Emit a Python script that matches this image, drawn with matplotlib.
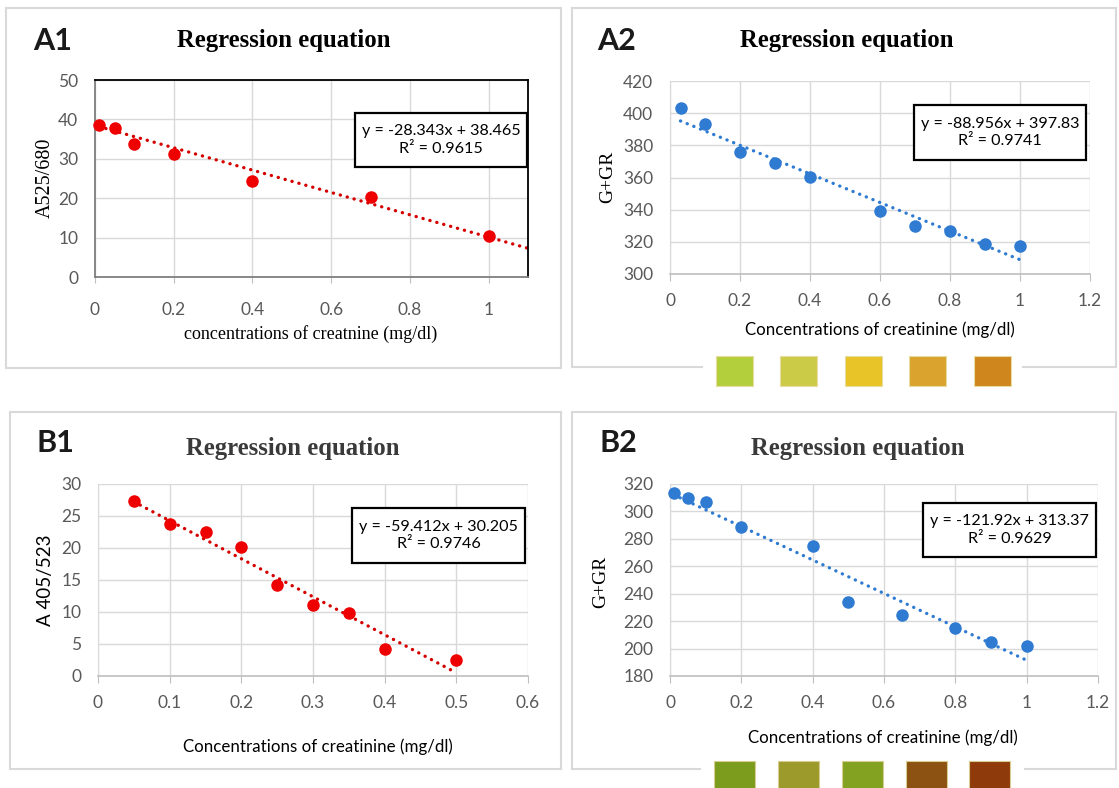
import numpy as np
import matplotlib
matplotlib.use("Agg")
import matplotlib.pyplot as plt
from matplotlib.patches import Rectangle
from matplotlib.lines import Line2D

# ---------------- data ----------------
a1_x = [0.01, 0.05, 0.1, 0.2, 0.4, 0.7, 1.0]
a1_y = [38.6, 37.7, 33.7, 31.1, 24.4, 20.3, 10.4]
a1_slope, a1_intercept, a1_r2 = -28.343, 38.465, 0.9615
a1_xticks = [0, 0.2, 0.4, 0.6, 0.8, 1.0]
a1_yticks = [0, 10, 20, 30, 40, 50]

a2_x = [0.03, 0.1, 0.2, 0.3, 0.4, 0.6, 0.7, 0.8, 0.9, 1.0]
a2_y = [403.0, 393.1, 375.6, 369.2, 360.5, 339.2, 330.1, 326.9, 318.7, 317.4]
a2_slope, a2_intercept, a2_r2 = -88.956, 397.83, 0.9741
a2_xticks = [0, 0.2, 0.4, 0.6, 0.8, 1.0, 1.2]
a2_yticks = [300, 320, 340, 360, 380, 400, 420]

b1_x = [0.05, 0.1, 0.15, 0.2, 0.25, 0.3, 0.35, 0.4, 0.5]
b1_y = [27.4, 23.8, 22.5, 20.1, 14.2, 11.1, 9.9, 4.2, 2.45]
b1_slope, b1_intercept, b1_r2 = -59.412, 30.205, 0.9746
b1_xticks = [0, 0.1, 0.2, 0.3, 0.4, 0.5, 0.6]
b1_yticks = [0, 5, 10, 15, 20, 25, 30]

b2_x = [0.01, 0.05, 0.1, 0.2, 0.4, 0.5, 0.65, 0.8, 0.9, 1.0]
b2_y = [313.2, 310.0, 306.6, 288.8, 275.0, 233.8, 224.3, 215.3, 204.8, 202.2]
b2_slope, b2_intercept, b2_r2 = -121.92, 313.37, 0.9629
b2_xticks = [0, 0.2, 0.4, 0.6, 0.8, 1.0, 1.2]
b2_yticks = [180, 200, 220, 240, 260, 280, 300, 320]

a_swatches = ["#b3cf3c", "#cccb48", "#e9c428", "#d9a32e", "#cf861c"]
b_swatches = ["#7c9c1e", "#9b9a2a", "#84a222", "#8b5212", "#8e3a0a"]

titles = ["Regression equation"] * 4
panel_labels = ["A1", "A2", "B1", "B2"]
ylabels = ["A525/680", "G+GR", "A 405/523", "G+GR"]
xlabels = ["concentrations of creatnine (mg/dl)",
           "Concentrations of creatinine (mg/dl)",
           "Concentrations of creatinine (mg/dl)",
           "Concentrations of creatinine (mg/dl)"]

# ---------------- layout helpers ----------------
W, H = 1119, 788
fig = plt.figure(figsize=(W / 100, H / 100), dpi=100)
fig.patch.set_facecolor("white")

SANS = ["Lato", "DejaVu Sans"]
SERIF = ["Liberation Serif", "DejaVu Serif"]
GRID = "#d9d9d9"
TICKC = "#595959"


def fx(x):
    return x / W


def fy(y):
    return 1 - y / H


def rect(l, t, r, b):
    return [l / W, 1 - b / H, (r - l) / W, (b - t) / H]


def hline(x0, x1, y, color="#d9d9d9", lw=1.5):
    fig.add_artist(Line2D([fx(x0), fx(x1)], [fy(y), fy(y)], color=color, lw=lw,
                          transform=fig.transFigure))


def vline(x, y0, y1, color="#d9d9d9", lw=1.5):
    fig.add_artist(Line2D([fx(x), fx(x)], [fy(y0), fy(y1)], color=color, lw=lw,
                          transform=fig.transFigure))


# panel borders
# A1
hline(6, 561, 8); hline(6, 561, 368); vline(6, 8, 368); vline(561, 8, 368)
# A2 (gap at swatches)
hline(572, 1116, 8); vline(572, 8, 367); vline(1116, 8, 367)
hline(572, 702, 367); hline(1023, 1116, 367)
# B1
hline(10, 561, 412); hline(10, 561, 769); vline(10, 412, 769); vline(561, 412, 769)
# B2
hline(572, 1116, 412); vline(572, 412, 769); vline(1116, 412, 769)
hline(572, 700, 769); hline(1025, 1116, 769)


def make_panel(ax_rect, xs, ys, slope, intercept, xticks, yticks, xlim, ylim,
               color, tcolor, extend=0.0, boxed=False):
    ax = fig.add_axes(ax_rect)
    ax.set_xlim(*xlim)
    ax.set_ylim(*ylim)
    ax.set_xticks(xticks)
    ax.set_yticks(yticks)
    ax.set_xticklabels(["%g" % v for v in xticks])
    ax.set_yticklabels(["%g" % v for v in yticks])
    ax.grid(True, color=GRID, lw=1.0, zorder=0)
    ax.set_axisbelow(True)
    for lab in ax.get_xticklabels() + ax.get_yticklabels():
        lab.set_family(SANS)
        lab.set_fontsize(12.5)
        lab.set_color(TICKC)
    if boxed:
        for s in ["top", "right"]:
            ax.spines[s].set_color("black")
            ax.spines[s].set_linewidth(1.3)
        for s in ["left", "bottom"]:
            ax.spines[s].set_color("#7f7f7f")
            ax.spines[s].set_linewidth(1.3)
        ax.tick_params(axis="y", length=0, pad=12)
        ax.tick_params(axis="x", length=4, color="#bfbfbf", pad=14)
    else:
        ax.spines["top"].set_visible(False)
        ax.spines["right"].set_visible(False)
        ax.spines["left"].set_color(GRID)
        ax.spines["bottom"].set_color("#bfbfbf")
        ax.spines["bottom"].set_linewidth(1.2)
        ax.tick_params(axis="y", length=0, pad=12)
        ax.tick_params(axis="x", length=5, color="#bfbfbf", pad=9)
    # trendline (from the equation shown on the chart)
    tx = np.array([min(xs), max(xs) + extend])
    ax.plot(tx, slope * tx + intercept, linestyle=(0, (0.05, 2.1)), color=tcolor,
            lw=2.4, dash_capstyle="round", zorder=2)
    ax.plot(xs, ys, "o", color=color, ms=8, zorder=3, clip_on=False)
    return ax


make_panel(rect(95, 80, 528, 277), a1_x, a1_y, a1_slope, a1_intercept,
           a1_xticks, a1_yticks, (0, 1.1), (0, 50), "#ee0000", "#d40000",
           extend=0.1, boxed=True)
make_panel(rect(670, 81, 1090, 274), a2_x, a2_y, a2_slope, a2_intercept,
           a2_xticks, a2_yticks, (0, 1.2), (300, 420), "#2f7bd2", "#2f7bd2")
make_panel(rect(98, 484, 528, 676), b1_x, b1_y, b1_slope, b1_intercept,
           b1_xticks, b1_yticks, (0, 0.6), (0, 30), "#ee0000", "#d40000")
make_panel(rect(670, 484, 1098, 676), b2_x, b2_y, b2_slope, b2_intercept,
           b2_xticks, b2_yticks, (0, 1.2), (180, 320), "#2f7bd2", "#2f7bd2")

# titles
title_pos = [(284, 40, "black"), (847, 40, "black"), (293, 449, "#3a3a3a"), (858, 449, "#3a3a3a")]
for (x, y, c), t in zip(title_pos, titles):
    fig.text(fx(x), fy(y), t, family=SERIF, weight="bold", fontsize=17.8,
             ha="center", va="center", color=c)

# panel labels
lab_pos = [(33, 41), (597, 41), (37, 443), (600, 443)]
for (x, y), t in zip(lab_pos, panel_labels):
    fig.text(fx(x), fy(y), t, family=SANS, weight="bold", fontsize=22, ha="left",
             va="center", color="#1a1a1a")

# y labels
ylab_pos = [(45, 178, SERIF, 14.5), (608, 177, SERIF, 14), (46, 580, SANS, 13.5),
            (601, 582, SERIF, 14)]
for (x, y, fam, fs), t in zip(ylab_pos, ylabels):
    fig.text(fx(x), fy(y), t, family=fam, fontsize=fs, rotation=90,
             ha="center", va="center", color="black")

# x labels
xlab_pos = [(311, 334, SERIF, 13.0), (880, 330, SANS, 12.2), (318, 747, SANS, 12.2),
            (883, 738, SANS, 12.2)]
for (x, y, fam, fs), t in zip(xlab_pos, xlabels):
    fig.text(fx(x), fy(y), t, family=fam, fontsize=fs, ha="center", va="center",
             color="black")

# equation boxes
eq_boxes = [(355, 113, 527, 167, a1_slope, a1_intercept, a1_r2),
            (914, 105, 1086, 160, a2_slope, a2_intercept, a2_r2),
            (352, 508, 525, 563, b1_slope, b1_intercept, b1_r2),
            (923, 503, 1096, 557, b2_slope, b2_intercept, b2_r2)]
for l, t, r, b, s, i, r2 in eq_boxes:
    fig.add_artist(Rectangle((fx(l), fy(b)), (r - l) / W, (b - t) / H,
                             transform=fig.transFigure, fc="white", ec="black",
                             lw=1.6, zorder=5))
    fig.text(fx((l + r) / 2), fy((t + b) / 2),
             "y = %gx + %g\nR² = %g" % (s, i, r2), family=SANS, fontsize=11.6,
             ha="center", va="center", color="black", linespacing=1.3, zorder=6)

# colour swatches
a_sw_x = [716, 780, 845, 909, 974]
for x, c in zip(a_sw_x, a_swatches):
    fig.add_artist(Rectangle((fx(x), fy(386)), 37 / W, 30 / H, transform=fig.transFigure,
                             fc=c, ec="#e8dca0", lw=0.8))
b_sw_x = [714, 778, 842, 906, 969]
for x, c in zip(b_sw_x, b_swatches):
    fig.add_artist(Rectangle((fx(x), fy(790)), 41 / W, 29 / H, transform=fig.transFigure,
                             fc=c, ec="#d8cc90", lw=0.8))

fig.savefig("out.png", dpi=100, facecolor="white")
